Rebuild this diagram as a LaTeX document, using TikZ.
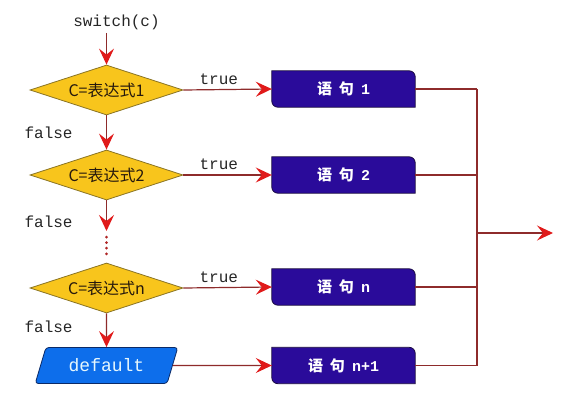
\documentclass[tikz,border=0pt]{standalone}
\usepackage{fontspec}
\setmonofont{Liberation Mono}
\newfontfamily\cjk{Noto Sans CJK SC}
\usetikzlibrary{arrows.meta,backgrounds,positioning,shapes.geometric}

\definecolor{gold}{HTML}{F8C51C}
\definecolor{goldline}{HTML}{8A7424}
\definecolor{stmtblue}{HTML}{2A0B9A}
\definecolor{stmtline}{HTML}{1A0A40}
\definecolor{defblue}{HTML}{0D6EEB}
\definecolor{defline}{HTML}{0B2A66}
\definecolor{linered}{HTML}{8E2B2B}
\definecolor{tipred}{HTML}{E01A1A}

\tikzset{
  flow/.style={draw=linered, line width=1.2pt,
    -{Stealth[length=16pt,width=15pt,inset=6pt,color=tipred]}},
  bus/.style={draw=linered, line width=1.2pt},
  lbl/.style={font=\ttfamily\fontsize{16}{16}\selectfont, text=black!85}
}

% background shape of a statement box
\newcommand\stmtshape[1]{%
  \draw[stmtline, fill=stmtblue, line width=0.8pt] (#1.north west) -- ([xshift=-6pt]#1.north east)
    arc[start angle=90, end angle=0, radius=6pt] -- (#1.south east)
    -- ([xshift=6pt]#1.south west) arc[start angle=270, end angle=180, radius=6pt] -- cycle;}

\begin{document}
\begin{tikzpicture}[x=1pt, y=-1pt]
  \useasboundingbox (0,0) rectangle (565,404);

  \node (sw) [lbl] at (116.5,22) {switch(c)};

  \begin{scope}[every node/.style={diamond, aspect=3, inner sep=0pt,
      minimum width=153pt, minimum height=50pt, fill=gold, draw=goldline,
      line width=0.8pt, text=black!80!brown, font=\cjk\fontsize{16}{16}\selectfont}]
    \node (d1) at (106.5,90) {C=表达式1};
    \node (d2) at (106.5,175) {C=表达式2};
    \node (dn) at (106.5,288) {C=表达式n};
  \end{scope}

  \node (def) [trapezium, trapezium left angle=70, trapezium right angle=110,
    trapezium stretches=true, minimum width=143pt, minimum height=36pt,
    rounded corners=3pt, fill=defblue, draw=defline, line width=0.8pt,
    text=cyan!10, font=\ttfamily\fontsize{18}{18}\selectfont] at (106.5,365.5) {default};

  \begin{scope}[every node/.style={minimum width=143pt, minimum height=36pt,
      inner sep=0pt, text=white, font=\cjk\bfseries\fontsize{15}{15}\selectfont}]
    \node (s1) at (343.5,89) {语\hspace{7pt}句\hspace{7pt}\texttt{1}};
    \node (s2) at (343.5,175) {语\hspace{7pt}句\hspace{7pt}\texttt{2}};
    \node (sn) at (343.5,287) {语\hspace{7pt}句\hspace{7pt}\texttt{n}};
    \node (sm) at (343.5,365.5) {语\hspace{7pt}句\hspace{7pt}\texttt{n+1}};
  \end{scope}
  \begin{scope}[on background layer]
    \foreach \s in {s1,s2,sn,sm} {\stmtshape{\s}}
  \end{scope}

  \coordinate (gap) at (106.5,231);
  \coordinate (busx) at (477,233);
  \coordinate (out) at (553,233);

  \draw[flow] (sw.south -| d1) -- (d1.north);
  \draw[flow] (d1.south) -- node[lbl, midway, left=30pt] {false} (d2.north);
  \draw[flow] (d2.south) -- node[lbl, pos=0.7, left=30pt] {false} (gap);
  \draw[linered!60!tipred, line width=3pt, line cap=round, dash pattern=on 0pt off 5.6pt]
    ([yshift=-6pt]gap) -- ([yshift=4pt]dn.north);
  \draw[flow] (dn.south) -- node[lbl, pos=0.4, left=30pt] {false} (def.north);

  \draw[flow] (d1.east) -- node[lbl, pos=0.4, above=1pt] {true} (s1.west);
  \draw[flow] (d2.east) -- node[lbl, pos=0.4, above=1pt] {true} (s2.west);
  \draw[flow] (dn.east) -- node[lbl, pos=0.4, above=1pt] {true} (sn.west);
  \draw[flow] (def.east) -- (sm.west);

  \foreach \s in {s1,s2,sn,sm}
    \draw[bus] (\s.east) -- (\s.east -| busx);
  \draw[bus] (s1.east -| busx) -- (sm.east -| busx);
  \draw[flow] (busx) -- (out);
\end{tikzpicture}
\end{document}
